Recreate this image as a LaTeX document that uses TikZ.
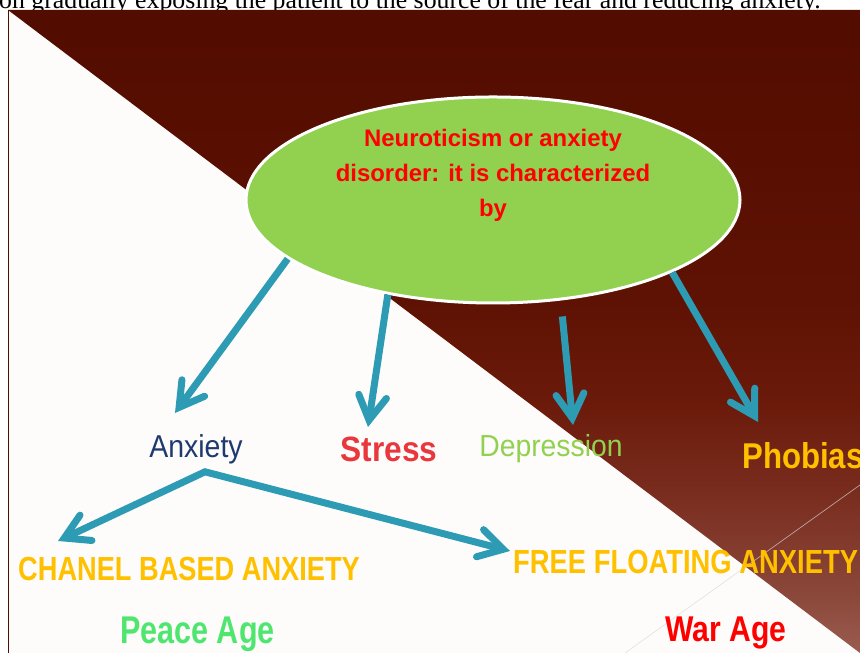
\documentclass[tikz,border=0pt]{standalone}
\usepackage{fontspec}
\setmainfont{Liberation Sans}
\newfontfamily\pagefont{Liberation Serif}
\definecolor{darkmaroon}{HTML}{520C00}
\definecolor{maroonB}{HTML}{5E1203}
\definecolor{maroonC}{HTML}{6B1A0A}
\definecolor{maroonD}{HTML}{7A2E20}
\definecolor{maroonE}{HTML}{8C4A3C}
\definecolor{lightmaroon}{HTML}{9A5C50}
\definecolor{paper}{HTML}{FDFCFB}
\definecolor{ovalgreen}{HTML}{92D050}
\definecolor{arrowteal}{HTML}{2E9BB5}
\definecolor{myorange}{HTML}{FFC000}
\definecolor{mynavy}{HTML}{1F3A6E}
\definecolor{stressred}{HTML}{E8383D}
\definecolor{peacegreen}{HTML}{4EE66E}
\usetikzlibrary{shapes.geometric, arrows.meta, calc, positioning}
\pgfdeclareverticalshading{panelshade}{100bp}{%
  color(0bp)=(lightmaroon);
  color(25bp)=(lightmaroon);
  color(29bp)=(maroonE);
  color(37bp)=(maroonD);
  color(44.5bp)=(maroonC);
  color(52.5bp)=(maroonB);
  color(75bp)=(darkmaroon);
  color(100bp)=(darkmaroon)}
\tikzset{
	barb/.tip={Straight Barb[length=0.72cm, width=0.84cm, line cap=round, line join=miter]}
}
\tikzset{
	flowarrow/.style={draw=arrowteal, line width=0.21cm, line join=miter}
}
\tikzset{
	lbl/.style={inner sep=0pt, anchor=base}
}
\tikzset{
	lblwest/.style={inner sep=0pt, anchor=base west}
}

\begin{document}
\begin{tikzpicture}[x=0.03cm, y=0.03cm]
\clip (0,0) rectangle (860,653);
\fill[white] (0,0) rectangle (860,653);

\node[lblwest, font=\pagefont\fontsize{22}{25}\selectfont] (pagetext) at (-1,644) {on gradually exposing the patient to the source of the fear and reducing anxiety.};

% background panel
\fill[paper] (8,0) rectangle (860,643);
\shade[shading=panelshade] (8,643) -- (860,643) -- (860,0) -- cycle;
\draw[darkmaroon, line width=0.03cm] (8,0) -- (8,643);
\draw[white!70!gray, line width=0.02cm, opacity=0.7] (625,0) -- (860,168);

\node[ellipse, fill=ovalgreen, draw=white, line width=0.09cm, minimum width=14.82cm, minimum height=6.18cm, inner sep=0pt] (neuro) at (493,453) {};
\node[anchor=north, inner sep=0pt, align=center, text=red, font=\bfseries\fontsize{20.4}{29.8}\selectfont] (neurotext) at (493,524) {Neuroticism or anxiety\\disorder: it is characterized\\by};

\node[lbl, text=mynavy, font=\fontsize{27}{30}\selectfont] (anx) at (196,195) {\scalebox{0.9}[1]{Anxiety}};
\node[lbl, text=stressred, font=\bfseries\fontsize{30}{33}\selectfont] (stress) at (389,191) {\scalebox{0.9}[1]{Stress}};
\node[lbl, text=ovalgreen, font=\fontsize{26}{29}\selectfont] (dep) at (551,196) {\scalebox{0.93}[1]{Depression}};
\node[lblwest, text=myorange, font=\bfseries\fontsize{30.6}{33}\selectfont] (pho) at (742,184) {\scalebox{0.87}[1]{Phobias}};
\node[lblwest, text=myorange, font=\bfseries\fontsize{28.5}{31}\selectfont] (chanel) at (18,72) {\scalebox{0.815}[1]{CHANEL BASED ANXIETY}};
\node[lblwest, text=myorange, font=\bfseries\fontsize{28.5}{31}\selectfont] (free) at (513,79) {\scalebox{0.82}[1]{FREE FLOATING ANXIETY}};
\node[lblwest, text=peacegreen, font=\bfseries\fontsize{33}{36}\selectfont] (peace) at (120,9) {\scalebox{0.79}[1]{Peace Age}};
\node[lblwest, text=red, font=\bfseries\fontsize{30.6}{33}\selectfont] (war) at (665,11) {\scalebox{0.84}[1]{War Age}};

\coordinate (anxtip) at (175,240);
\coordinate (strtip) at (368,226);
\coordinate (deptip) at (573,228);
\coordinate (photip) at (758,231);
\coordinate (fork) at ([shift={(9,-7)}]anx.south);
\coordinate (chantip) at (58,112);
\coordinate (freetip) at (510,102);

\draw[flowarrow, -barb] (neuro.196.5) -- (anxtip);
\draw[flowarrow, -barb] (neuro.222.2) -- (strtip);
\draw[flowarrow, -barb, shorten <=0.48cm] (neuro.304.7) -- (deptip);
\draw[flowarrow, -barb] (neuro.338.6) -- (photip);
\draw[flowarrow, barb-barb] (chantip) -- (fork) -- (freetip);

\end{tikzpicture}
\end{document}
